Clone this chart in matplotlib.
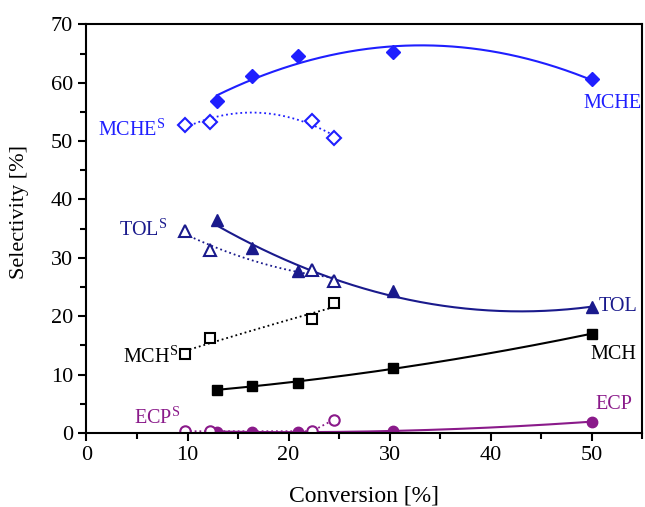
import numpy as np
import matplotlib
matplotlib.use("Agg")
import matplotlib.pyplot as plt
from matplotlib.ticker import MultipleLocator

plt.rcParams['font.family'] = ['Liberation Serif', 'DejaVu Serif']
plt.rcParams['mathtext.fontset'] = 'custom'
plt.rcParams['mathtext.rm'] = 'Liberation Serif'

# Data
conv_main = [12.9, 16.4, 20.9, 30.3, 50.0]
mche = [56.9, 61.1, 64.5, 65.2, 60.6]
tol = [36.4, 31.7, 27.8, 24.3, 21.5]
mch = [7.4, 8.1, 8.6, 11.1, 17.0]
ecp = [0.2, 0.2, 0.2, 0.3, 1.95]

conv_s = [9.76, 12.2, 22.3, 24.5]
mche_s = [52.7, 53.3, 53.4, 50.5]
tol_s = [34.6, 31.4, 28.0, 26.0]
mch_s = [13.5, 16.2, 19.6, 22.2]
ecp_s = [0.3, 0.3, 0.3, 2.3]

c_mche = '#1f1fff'
c_tol = '#1a1a8c'
c_mch = '#000000'
c_ecp = '#8a1a8a'

fig = plt.figure(figsize=(6.45, 5.07), dpi=100)
ax = fig.add_axes([0.134, 0.146, 0.862, 0.806])

def fit_line(x, y, deg, color, ls, lw):
    p = np.polyfit(x, y, deg)
    xs = np.linspace(min(x), max(x), 200)
    ax.plot(xs, np.polyval(p, xs), color=color, ls=ls, lw=lw)

# main (solid) series
fit_line(conv_main, mche, 2, c_mche, '-', 1.5)
fit_line(conv_main, tol, 2, c_tol, '-', 1.5)
fit_line(conv_main, mch, 2, c_mch, '-', 1.5)
fit_line(conv_main, ecp, 2, c_ecp, '-', 1.5)
ax.plot(conv_main, mche, ls='none', marker='D', ms=7.5, color=c_mche)
ax.plot(conv_main, tol, ls='none', marker='^', ms=9, color=c_tol)
ax.plot(conv_main, mch, ls='none', marker='s', ms=7.5, color=c_mch)
ax.plot(conv_main, ecp, ls='none', marker='o', ms=7.5, color=c_ecp)

# s (dotted) series
fit_line(conv_s, mche_s, 2, c_mche, ':', 1.3)
fit_line(conv_s, tol_s, 2, c_tol, ':', 1.3)
fit_line(conv_s, mch_s, 2, c_mch, ':', 1.3)
ax.plot(conv_s, ecp_s, color=c_ecp, ls=':', lw=1.3)
ax.plot(conv_s, mche_s, ls='none', marker='D', ms=7.5, mfc='white', mec=c_mche, mew=1.5)
ax.plot(conv_s, tol_s, ls='none', marker='^', ms=9, mfc='white', mec=c_tol, mew=1.5)
ax.plot(conv_s, mch_s, ls='none', marker='s', ms=7.5, mfc='white', mec=c_mch, mew=1.5)
ax.plot(conv_s, ecp_s, ls='none', marker='o', ms=7.5, mfc='white', mec=c_ecp, mew=1.5)

fs = 14.5
ax.text(52.0, 56.4, 'MCHE', color=c_mche, fontsize=fs, ha='center', va='center')
ax.text(7.8, 52.0, r'MCHE$^{\mathrm{S}}$', color=c_mche, fontsize=fs, ha='right', va='center')
ax.text(8.0, 34.8, r'TOL$^{\mathrm{S}}$', color=c_tol, fontsize=fs, ha='right', va='center')
ax.text(50.7, 21.7, 'TOL', color=c_tol, fontsize=fs, ha='left', va='center')
ax.text(52.1, 13.4, 'MCH', color=c_mch, fontsize=fs, ha='center', va='center')
ax.text(9.1, 13.1, r'MCH$^{\mathrm{S}}$', color=c_mch, fontsize=fs, ha='right', va='center')
ax.text(52.2, 4.8, 'ECP', color=c_ecp, fontsize=fs, ha='center', va='center')
ax.text(9.3, 2.6, r'ECP$^{\mathrm{S}}$', color=c_ecp, fontsize=fs, ha='right', va='center')

ax.set_xlim(0, 55)
ax.set_ylim(0, 70)
ax.xaxis.set_major_locator(MultipleLocator(10))
ax.xaxis.set_minor_locator(MultipleLocator(5))
ax.yaxis.set_major_locator(MultipleLocator(10))
ax.yaxis.set_minor_locator(MultipleLocator(5))
ax.tick_params(which='both', direction='out', top=False, right=False, labelsize=16, width=1.5)
ax.tick_params(which='major', length=6)
ax.tick_params(which='minor', length=4)
for s in ax.spines.values():
    s.set_linewidth(1.5)

ax.set_xlabel('Conversion [%]', fontsize=17, va='center')
ax.xaxis.set_label_coords(0.5, -0.155)
ax.set_ylabel('Selectivity [%]', fontsize=16, va='center')
ax.yaxis.set_label_coords(-0.121, 0.54)

fig.savefig('out.png', dpi=100)
